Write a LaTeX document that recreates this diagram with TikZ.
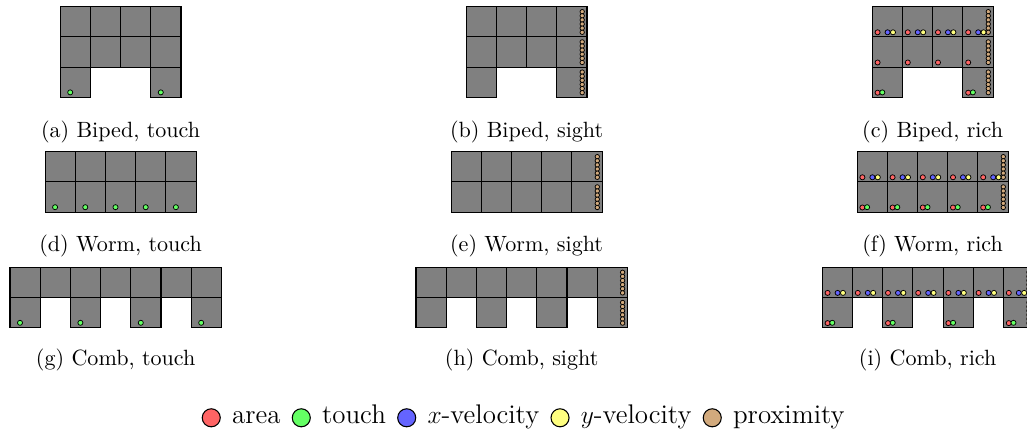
\documentclass[tikz,border=0pt]{standalone}
\usepackage{tikz}
\definecolor{cred}{RGB}{255,100,100}
\definecolor{cgreen}{RGB}{100,255,100}
\definecolor{cblue}{RGB}{100,100,255}
\definecolor{cyellow}{RGB}{255,255,128}
\definecolor{ctan}{RGB}{210,170,125}
\definecolor{cgray}{RGB}{128,128,128}
\tikzset{
  cellst/.style={draw=black, fill=cgray, line width=0.5pt},
  dotst/.style={draw=black, line width=0.35pt},
  capt/.style={anchor=base, font=\fontsize{10.4}{12}\selectfont, inner sep=0pt},
  legdot/.style={circle, draw=black, line width=0.5pt, minimum size=8.5pt, inner sep=0pt, anchor=west},
  legtxt/.style={anchor=west, font=\fontsize{12.7}{15}\selectfont, inner sep=0pt, text height=1.6ex, text depth=0.3ex},
}
\def\rd{1.2pt}
\def\rp{1.05pt}
\def\lgap{5.1pt}
\newcommand\gridcell[2]{\draw[cellst] ({#1},{#2}) rectangle ++(30.2,30.2);}
\newcommand\sensR[2]{\filldraw[dotst,fill=cred] ({#1+5.3},{#2+25.6}) circle[radius=\rd];}
\newcommand\sensG[2]{\filldraw[dotst,fill=cgreen] ({#1+10},{#2+25.3}) circle[radius=\rd];}
\newcommand\sensB[2]{\filldraw[dotst,fill=cblue] ({#1+15.3},{#2+25.6}) circle[radius=\rd];}
\newcommand\sensY[2]{\filldraw[dotst,fill=cyellow] ({#1+20.7},{#2+25.6}) circle[radius=\rd];}
\newcommand\sensP[2]{\foreach \k in {0,...,5}{\filldraw[dotst,fill=ctan] ({#1+25.4},{#2+5+4.12*\k}) circle[radius=\rp];}}
% #1 X, #2 Y, #3 cells, #4 feet, #5 right column, #6 mode (0 touch,1 sight,2 rich)
\newcommand\drawpanel[6]{%
  \foreach \i/\j in #3{\gridcell{#1+30.2*\i}{#2+30.2*\j}}%
  \ifnum#6=2
    \foreach \i/\j in #3{\sensR{#1+30.2*\i}{#2+30.2*\j}}%
  \fi
  \ifnum#6=1 \else
    \foreach \i/\j in #4{\sensG{#1+30.2*\i}{#2+30.2*\j}}%
  \fi
  \ifnum#6=2
    \foreach \i/\j in #3{\ifnum\j=0 \sensB{#1+30.2*\i}{#2+30.2*\j}\sensY{#1+30.2*\i}{#2+30.2*\j}\fi}%
  \fi
  \ifnum#6=0 \else
    \foreach \i/\j in #3{\ifnum\i=#5\relax \sensP{#1+30.2*\i}{#2+30.2*\j}\fi}%
  \fi
}
\def\bipedcells{0/0,1/0,2/0,3/0,0/1,1/1,2/1,3/1,0/2,3/2}
\def\bipedfeet{0/2,3/2}
\def\wormcells{0/0,1/0,2/0,3/0,4/0,0/1,1/1,2/1,3/1,4/1}
\def\wormfeet{0/1,1/1,2/1,3/1,4/1}
\def\combcells{0/0,1/0,2/0,3/0,4/0,5/0,6/0,0/1,2/1,4/1,6/1}
\def\combfeet{0/1,2/1,4/1,6/1}
\begin{document}
\begin{tikzpicture}[x=0.016556cm, y=-0.016556cm]
\clip (0,0) rectangle (1027,435);
\fill[white] (0,0) rectangle (1027,435);
% row 1: biped
\drawpanel{60.2}{6.7}{\bipedcells}{\bipedfeet}{3}{0}
\drawpanel{466.2}{6.7}{\bipedcells}{\bipedfeet}{3}{1}
\drawpanel{872.3}{6.7}{\bipedcells}{\bipedfeet}{3}{2}
% row 2: worm
\drawpanel{45.1}{151.7}{\wormcells}{\wormfeet}{4}{0}
\drawpanel{451.1}{151.7}{\wormcells}{\wormfeet}{4}{1}
\drawpanel{857.1}{151.7}{\wormcells}{\wormfeet}{4}{2}
% row 3: comb
\drawpanel{10}{267.3}{\combcells}{\combfeet}{6}{0}
\drawpanel{416}{267.3}{\combcells}{\combfeet}{6}{1}
\drawpanel{822.3}{267.3}{\combcells}{\combfeet}{6}{2}
% captions
\node[capt] (capa) at (120.6,137.5) {(a) Biped, touch};
\node[capt] (capb) at (526.6,137.5) {(b) Biped, sight};
\node[capt] (capc) at (932.6,137.5) {(c) Biped, rich};
\node[capt] (capd) at (120.6,251.5) {(d) Worm, touch};
\node[capt] (cape) at (526.6,251.5) {(e) Worm, sight};
\node[capt] (capf) at (932.6,251.5) {(f) Worm, rich};
\node[capt] (capg) at (115.7,365.7) {(g) Comb, touch};
\node[capt] (caph) at (521.7,365.7) {(h) Comb, sight};
\node[capt] (capi) at (927.7,365.7) {(i) Comb, rich};
% legend
\node[legdot, fill=cred] (l1) at (201.7,417.8) {};
\node[legtxt] (t1) at ([xshift=\lgap]l1.east) {area};
\node[legdot, fill=cgreen] (l2) at ([xshift=\lgap]t1.east) {};
\node[legtxt] (t2) at ([xshift=\lgap]l2.east) {touch};
\node[legdot, fill=cblue] (l3) at ([xshift=\lgap]t2.east) {};
\node[legtxt] (t3) at ([xshift=\lgap]l3.east) {$x$-velocity};
\node[legdot, fill=cyellow] (l4) at ([xshift=\lgap]t3.east) {};
\node[legtxt] (t4) at ([xshift=\lgap]l4.east) {$y$-velocity};
\node[legdot, fill=ctan] (l5) at ([xshift=\lgap]t4.east) {};
\node[legtxt] (t5) at ([xshift=\lgap]l5.east) {proximity};
\end{tikzpicture}
\end{document}
